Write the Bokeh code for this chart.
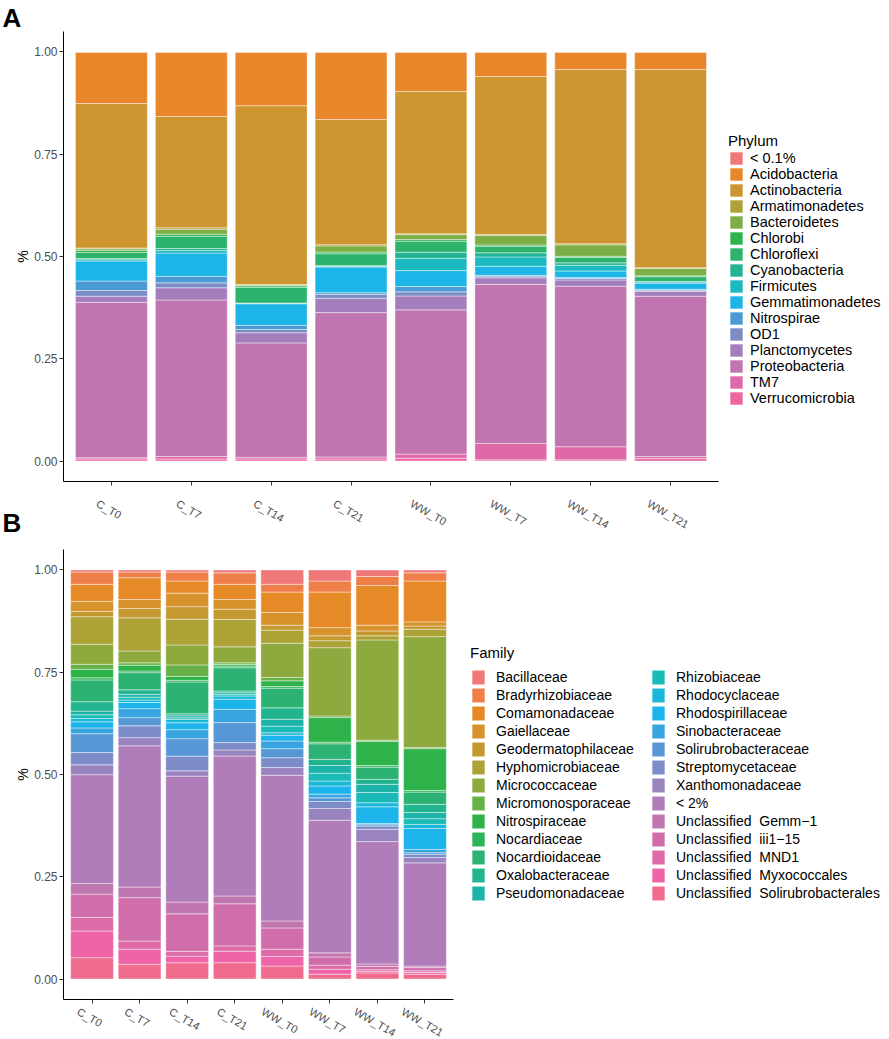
import numpy as np
from bokeh.plotting import figure
from bokeh.models import (ColumnDataSource, Range1d, FixedTicker, PrintfTickFormatter,
                          CustomJSTickFormatter, Legend, LegendItem, Title)
from bokeh.layouts import column
from bokeh.embed import file_html
from bokeh.resources import INLINE

FONT = "Liberation Sans"

samples = ["C_T0", "C_T7", "C_T14", "C_T21", "WW_T0", "WW_T7", "WW_T14", "WW_T21"]

# ---------------- Panel A : Phylum (relative abundance per sample) ----------------
phylum_names = ["< 0.1%", "Acidobacteria", "Actinobacteria", "Armatimonadetes", "Bacteroidetes",
                "Chlorobi", "Chloroflexi", "Cyanobacteria", "Firmicutes", "Gemmatimonadetes",
                "Nitrospirae", "OD1", "Planctomycetes", "Proteobacteria", "TM7", "Verrucomicrobia"]
ph_lt01 = [0.001, 0.001, 0.001, 0.001, 0.001, 0.001, 0.001, 0.001]
ph_acido = [0.125, 0.157, 0.131, 0.165, 0.096, 0.059, 0.042, 0.042]
ph_actino = [0.353, 0.272, 0.439, 0.308, 0.348, 0.385, 0.426, 0.486]
ph_armat = [0.002, 0.004, 0.001, 0.003, 0.002, 0.003, 0.003, 0.002]
ph_bactero = [0.004, 0.012, 0.002, 0.015, 0.012, 0.023, 0.028, 0.018]
ph_chlorobi = [0.005, 0.005, 0.004, 0.004, 0.004, 0.003, 0.003, 0.002]
ph_chlorofl = [0.015, 0.030, 0.038, 0.029, 0.027, 0.016, 0.013, 0.012]
ph_cyano = [0.003, 0.005, 0.001, 0.002, 0.015, 0.010, 0.006, 0.001]
ph_firmic = [0.003, 0.006, 0.001, 0.002, 0.030, 0.023, 0.014, 0.003]
ph_gemma = [0.049, 0.057, 0.053, 0.063, 0.039, 0.022, 0.016, 0.015]
ph_nitro = [0.023, 0.016, 0.010, 0.004, 0.013, 0.002, 0.002, 0.002]
ph_od1 = [0.014, 0.012, 0.008, 0.010, 0.010, 0.004, 0.004, 0.003]
ph_plancto = [0.015, 0.030, 0.025, 0.035, 0.034, 0.016, 0.015, 0.012]
ph_proteo = [0.380, 0.383, 0.281, 0.355, 0.353, 0.388, 0.393, 0.393]
ph_tm7 = [0.003, 0.006, 0.004, 0.005, 0.010, 0.040, 0.032, 0.005]
ph_verruco = [0.005, 0.005, 0.005, 0.005, 0.007, 0.003, 0.003, 0.006]
phylum_colors = ["#F07878", "#E8862A", "#CC9530", "#AFA136", "#7DAE45", "#2DB34E", "#2DB36C",
                 "#22B495", "#1DB9C0", "#1CB5E8", "#4A9AD6", "#7E8CC6", "#A47EBC", "#C175B0",
                 "#DE68A8", "#EE66A0"]

# ---------------- Panel B : Family ----------------
family_names = ["Bacillaceae", "Bradyrhizobiaceae", "Comamonadaceae", "Gaiellaceae",
                "Geodermatophilaceae", "Hyphomicrobiaceae", "Micrococcaceae", "Micromonosporaceae",
                "Nitrospiraceae", "Nocardiaceae", "Nocardioidaceae", "Oxalobacteraceae",
                "Pseudomonadaceae", "Rhizobiaceae", "Rhodocyclaceae", "Rhodospirillaceae",
                "Sinobacteraceae", "Solirubrobacteraceae", "Streptomycetaceae", "Xanthomonadaceae",
                "< 2%", "Unclassified\u00a0 Gemm\u22121", "Unclassified\u00a0 iii1\u221215",
                "Unclassified\u00a0 MND1", "Unclassified\u00a0 Myxococcales",
                "Unclassified\u00a0 Solirubrobacterales"]
fa_bacill = [0.005, 0.005, 0.005, 0.007, 0.035, 0.027, 0.016, 0.007]
fa_brady = [0.030, 0.014, 0.022, 0.028, 0.019, 0.027, 0.022, 0.020]
fa_comam = [0.042, 0.053, 0.030, 0.037, 0.050, 0.087, 0.097, 0.100]
fa_gaiell = [0.024, 0.022, 0.033, 0.024, 0.031, 0.020, 0.014, 0.010]
fa_geoderm = [0.013, 0.023, 0.031, 0.025, 0.012, 0.012, 0.012, 0.008]
fa_hyphom = [0.067, 0.081, 0.063, 0.067, 0.032, 0.017, 0.010, 0.018]
fa_micrococc = [0.049, 0.029, 0.049, 0.039, 0.084, 0.167, 0.245, 0.271]
fa_micromono = [0.012, 0.006, 0.028, 0.004, 0.008, 0.004, 0.003, 0.003]
fa_nitrospir = [0.021, 0.014, 0.010, 0.004, 0.014, 0.060, 0.059, 0.102]
fa_nocardiac = [0.005, 0.004, 0.004, 0.004, 0.004, 0.004, 0.004, 0.004]
fa_nocardioid = [0.053, 0.042, 0.078, 0.057, 0.048, 0.038, 0.030, 0.030]
fa_oxalo = [0.023, 0.011, 0.005, 0.004, 0.028, 0.015, 0.012, 0.020]
fa_pseudo = [0.009, 0.007, 0.005, 0.004, 0.017, 0.019, 0.020, 0.015]
fa_rhizob = [0.009, 0.007, 0.004, 0.004, 0.016, 0.019, 0.025, 0.014]
fa_rhodocyc = [0.008, 0.006, 0.008, 0.008, 0.006, 0.012, 0.010, 0.010]
fa_rhodospir = [0.015, 0.015, 0.017, 0.025, 0.014, 0.020, 0.041, 0.051]
fa_sinobac = [0.014, 0.022, 0.022, 0.032, 0.019, 0.009, 0.003, 0.008]
fa_solirubro = [0.046, 0.020, 0.043, 0.049, 0.022, 0.009, 0.003, 0.004]
fa_strepto = [0.030, 0.029, 0.036, 0.018, 0.024, 0.017, 0.008, 0.008]
fa_xantho = [0.024, 0.020, 0.013, 0.015, 0.019, 0.029, 0.030, 0.013]
fa_lt2 = [0.265, 0.345, 0.309, 0.342, 0.356, 0.324, 0.299, 0.252]
fa_gemm1 = [0.026, 0.026, 0.029, 0.019, 0.017, 0.010, 0.006, 0.004]
fa_iii115 = [0.057, 0.106, 0.092, 0.103, 0.052, 0.020, 0.008, 0.008]
fa_mnd1 = [0.033, 0.020, 0.012, 0.013, 0.018, 0.010, 0.004, 0.004]
fa_myxo = [0.065, 0.037, 0.016, 0.028, 0.023, 0.012, 0.004, 0.004]
fa_solirub_u = [0.052, 0.036, 0.040, 0.040, 0.032, 0.012, 0.015, 0.012]
family_colors = ["#F07878", "#EF7F48", "#E68A28", "#D8922C", "#C49A30", "#ACA236", "#8EAA3E",
                 "#66B246", "#2DB34A", "#2DB456", "#2CB374", "#22B48E", "#1CB4A8", "#1ABAB8",
                 "#1AB8D8", "#1CB4EA", "#38A5E0", "#5897D6", "#7C8CC8", "#9A84C0", "#B07CBA",
                 "#C077B0", "#D06EAC", "#DE6AA8", "#EE64A6", "#F06C8E"]

phylum_values = [ph_lt01, ph_acido, ph_actino, ph_armat, ph_bactero, ph_chlorobi, ph_chlorofl,
                 ph_cyano, ph_firmic, ph_gemma, ph_nitro, ph_od1, ph_plancto, ph_proteo,
                 ph_tm7, ph_verruco]
family_values = [fa_bacill, fa_brady, fa_comam, fa_gaiell, fa_geoderm, fa_hyphom, fa_micrococc,
                 fa_micromono, fa_nitrospir, fa_nocardiac, fa_nocardioid, fa_oxalo, fa_pseudo,
                 fa_rhizob, fa_rhodocyc, fa_rhodospir, fa_sinobac, fa_solirubro, fa_strepto,
                 fa_xantho, fa_lt2, fa_gemm1, fa_iii115, fa_mnd1, fa_myxo, fa_solirub_u]

x_pos = list(range(1, len(samples) + 1))

# label layout helpers (Arial/Liberation advance widths per 1000 em)
CHAR_W = {"C": 722, "_": 556, "T": 611, "W": 944}
TICK_FONT_PX = 11.0
ANGLE = 0.5236  # 30 degrees, labels descend to the right


def text_len(s):
    return sum(CHAR_W.get(ch, 556) for ch in s) * TICK_FONT_PX / 1000.0


def make_panel(names, values, colors, frame_w, min_top, min_bottom, min_right, label_standoff):
    p = figure(frame_width=frame_w, frame_height=450,
               x_range=Range1d(0.4, 8.6), y_range=Range1d(-0.05, 1.05),
               output_backend="svg", toolbar_location=None,
               min_border_left=63, min_border_top=min_top, min_border_bottom=min_bottom,
               min_border_right=min_right, background_fill_color="white")
    p.xgrid.visible = False
    p.ygrid.visible = False
    p.outline_line_color = None

    # position = "fill": each sample is normalised to 1
    arr = np.array(values, dtype=float)
    arr = arr / arr.sum(axis=0)
    data = {"x": x_pos}
    cols = []
    for i in range(len(names)):
        c = "s%d" % i
        data[c] = list(arr[i])
        cols.append(c)
    src = ColumnDataSource(data)
    stack_cols = cols[::-1]          # first level is drawn on top of the stack
    stack_colors = colors[::-1]
    rends = p.vbar_stack(stackers=stack_cols, x="x", width=0.9, source=src,
                         fill_color=stack_colors, line_color="white", line_width=0.6,
                         line_alpha=0.7)
    rmap = {c: r for c, r in zip(stack_cols, rends)}
    items = [LegendItem(label=n, renderers=[rmap[c]]) for n, c in zip(names, cols)]

    for ax in (p.xaxis, p.yaxis):
        ax.axis_line_color = "black"
        ax.axis_line_width = 1
        ax.major_tick_line_color = "#333333"
        ax.major_tick_out = 4
        ax.major_tick_in = 0
        ax.minor_tick_out = 0
        ax.minor_tick_in = 0
        ax.major_label_text_font = FONT
        ax.major_label_text_font_size = "12px"
        ax.major_label_text_color = "#4D4D4D"

    # x axis: tick marks at the bars (minor ticks), rotated labels centred under them
    ppu = frame_w / 8.2
    anchors = [x + (-2.5 - 0.433 * text_len(s)) / ppu for x, s in zip(x_pos, samples)]
    p.xaxis.ticker = FixedTicker(ticks=anchors, minor_ticks=x_pos)
    p.xaxis.major_tick_line_color = None
    p.xaxis.minor_tick_line_color = "#333333"
    p.xaxis.minor_tick_out = 4
    p.xaxis.formatter = CustomJSTickFormatter(args=dict(labels=samples),
                                              code="return labels[index];")
    p.xaxis.major_label_orientation = -ANGLE
    p.xaxis.major_label_text_font_size = "%dpx" % TICK_FONT_PX
    p.xaxis.major_label_standoff = label_standoff

    p.yaxis.ticker = FixedTicker(ticks=[0.0, 0.25, 0.5, 0.75, 1.0])
    p.yaxis.formatter = PrintfTickFormatter(format="%.2f")
    p.yaxis.major_label_standoff = 2
    p.yaxis.axis_label = "%"
    p.yaxis.axis_label_text_font = FONT
    p.yaxis.axis_label_text_font_size = "14px"
    p.yaxis.axis_label_text_font_style = "normal"
    p.yaxis.axis_label_text_color = "black"
    p.yaxis.axis_label_standoff = 0
    return p, items


def style_legend(lg, glyph_h, standoff, font_px):
    lg.glyph_width = 16
    lg.glyph_height = glyph_h
    lg.label_height = glyph_h
    lg.spacing = 0
    lg.padding = 0
    lg.label_standoff = standoff
    lg.label_text_font = FONT
    lg.label_text_font_size = font_px
    lg.label_text_color = "black"
    lg.title_text_font = FONT
    lg.title_text_font_size = "15px"
    lg.title_text_font_style = "normal"
    lg.title_text_color = "black"
    lg.border_line_color = None
    lg.background_fill_alpha = 0


def letter(text, place_standoff):
    return Title(text=text, align="left", offset=-61, text_font=FONT, text_font_size="26px",
                 text_font_style="bold", text_color="black", standoff=place_standoff)


# Panel A (canvas 0..540)
pA, itemsA = make_panel(phylum_names, phylum_values, phylum_colors, 655, 31, 59, 0, 17)
pA.border_fill_color = "white"
legA = Legend(items=itemsA, title="Phylum", location=(10, 75), margin=5)
style_legend(legA, 16, 6, "14.5px")
legA.title_standoff = 1
pA.add_layout(legA, "right")
pA.add_layout(letter("A", -2), "above")

# Panel B: canvas pulled up over A's bottom strip (transparent border so A's labels show)
pB, itemsB = make_panel(family_names, family_values, family_colors, 390, 56, 40, 430, 7)
pB.border_fill_alpha = 0
pB.margin = (-47, 0, 0, 0)
legB = Legend(items=itemsB, title="Family", location=(17, 97), margin=0, nrows=13)
style_legend(legB, 18, 10, "14px")
legB.label_width = 154
legB.title_standoff = 7
pB.add_layout(legB, "right")
pB.add_layout(letter("B", 23), "above")

layout = column(pA, pB, spacing=0)
open("out.html", "w").write(file_html(layout, INLINE))
